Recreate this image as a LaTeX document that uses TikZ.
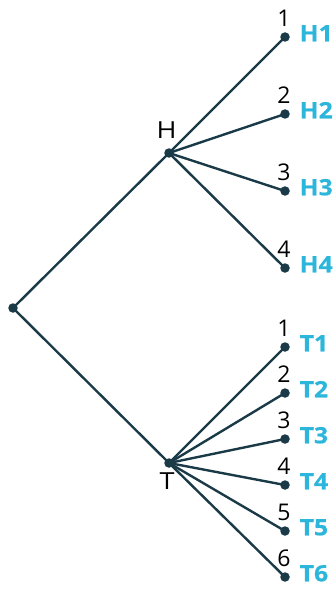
\documentclass[tikz,border=0pt]{standalone}
\usepackage{fontspec}
\setmainfont{Open Sans}
\newfontfamily\widefont[FakeStretch=1.15]{Open Sans}
\newfontfamily\widebold[FakeStretch=1.1,FakeBold=0.6,UprightFont={* Bold}]{Open Sans}
\definecolor{edgec}{HTML}{1B3A48}
\definecolor{outc}{HTML}{2DB6DB}
\begin{document}
\begin{tikzpicture}[x=1pt,y=-1pt,
  dotc/.style={circle,fill=edgec,inner sep=0pt,minimum size=9.5pt},
  branch/.style={draw=edgec,line width=2.4pt},
  numlab/.style={font=\fontsize{23}{23}\selectfont,text=black,inner sep=0pt,anchor=base},
  outlab/.style={font=\widebold\fontsize{22.5}{22.5}\selectfont,text=outc,inner sep=0pt,anchor=base west},
  toplab/.style={font=\widefont\fontsize{23.5}{23.5}\selectfont,text=black,inner sep=0pt,anchor=base}]
\useasboundingbox (0,0) rectangle (335,591);
\node[dotc] (r) at (13,308) {};
\node[dotc] (h) at (169,153) {};
\node[dotc] (t) at (169,463) {};
\draw[branch] (r.center) -- (h.center);
\draw[branch] (r.center) -- (t.center);
\node[toplab] (hl) at (166.7,139) {H};
\node[toplab] (tl) at (167,489) {T};
\foreach \i/\y in {1/37,2/114,3/191,4/268}{
  \node[dotc] (h\i) at (285,\y) {};
  \draw[branch] (h.center) -- (h\i.center);
  \node[numlab] (hn\i) at (284,\y-10.5) {\i};
  \node[outlab] (ho\i) at (299.5,\y+4.3) {H\i};
}
\foreach \i/\y in {1/347,2/393,3/439,4/485,5/531,6/577}{
  \node[dotc] (t\i) at (285,\y) {};
  \draw[branch] (t.center) -- (t\i.center);
  \node[numlab] (tn\i) at (284,\y-10.5) {\i};
  \node[outlab] (to\i) at (299.5,\y+4.3) {T\i};
}
\end{tikzpicture}
\end{document}
